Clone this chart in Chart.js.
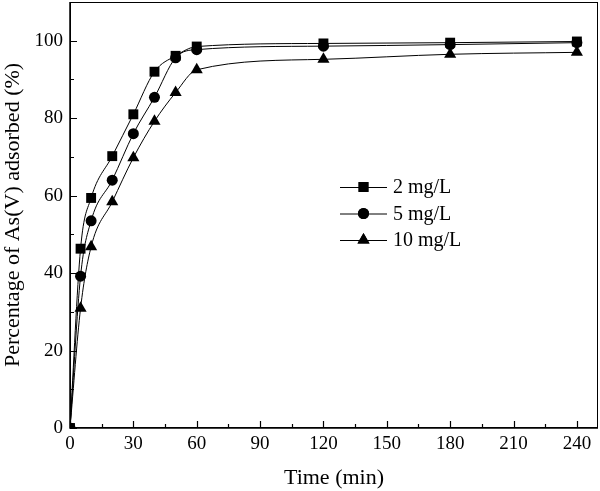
<!DOCTYPE html>
<html lang="en">
<head>
<meta charset="UTF-8">
<title>As(V) adsorption kinetics</title>
<script src="https://cdn.jsdelivr.net/npm/chart.js"></script>
<style>
  html, body { margin: 0; padding: 0; background: #fff; }
  #wrap { width: 600px; height: 491px; }
</style>
</head>
<body>
<div id="wrap"><canvas id="grafico"></canvas></div>
<script>
// data
const tempos = [0, 5, 10, 20, 30, 40, 50, 60, 120, 180, 240];
const serie2 = [0, 46.3, 59.4, 70.2, 81.0, 92.0, 96.1, 98.5, 99.3, 99.5, 99.8];
const serie5 = [0, 39.2, 53.5, 64.0, 76.0, 85.4, 95.6, 97.7, 98.6, 99.0, 99.5];
const serie10 = [0, 30.9, 46.8, 58.4, 69.8, 79.2, 86.6, 92.5, 95.2, 96.5, 97.0];
const rotulos = ['2 mg/L', '5 mg/L', '10 mg/L'];
const ticksX = [0, 30, 60, 90, 120, 150, 180, 210, 240];
const ticksY = [0, 20, 40, 60, 80, 100];

const fonte = 'Liberation Serif, Times New Roman, serif';

function pontos(ys) {
  return tempos.map((t, i) => ({ x: t, y: ys[i] }));
}

function serie(label, ys, estilo, raio) {
  return {
    label: label,
    data: pontos(ys),
    showLine: true,
    borderColor: '#000',
    backgroundColor: '#000',
    borderWidth: 1,
    pointStyle: estilo,
    pointRadius: raio,
    pointHoverRadius: raio,
    pointBorderWidth: 0,
    cubicInterpolationMode: 'monotone'
  };
}

// moldura e ticks para dentro
const molduraPlugin = {
  id: 'moldura',
  afterDraw(chart) {
    const ctx = chart.ctx;
    const a = chart.chartArea;
    const sx = chart.scales.x, sy = chart.scales.y;
    ctx.save();
    ctx.strokeStyle = '#000';
    ctx.lineWidth = 1;
    ctx.strokeRect(a.left + 0.5, a.top + 0.5, a.right - a.left - 1, a.bottom - a.top - 1);
    ctx.lineWidth = 1.5;
    ctx.beginPath();
    ctx.moveTo(a.left, a.top); ctx.lineTo(a.left, a.bottom); ctx.lineTo(a.right, a.bottom);
    ctx.stroke();
    ctx.lineWidth = 1.2;
    ctx.beginPath();
    for (let v = 0; v <= 240; v += 15) {
      const px = Math.round(sx.getPixelForValue(v)) + 0.5;
      const len = v % 30 === 0 ? 7 : 4;
      ctx.moveTo(px, a.bottom); ctx.lineTo(px, a.bottom - len);
    }
    for (let v = 0; v <= 100; v += 10) {
      const py = Math.round(sy.getPixelForValue(v)) + 0.5;
      const len = v % 20 === 0 ? 7 : 4;
      ctx.moveTo(a.left, py); ctx.lineTo(a.left + len, py);
    }
    ctx.stroke();
    ctx.restore();
  }
};

// legenda com linha e marcador
const legendaPlugin = {
  id: 'legendaLinha',
  afterDraw(chart) {
    const ctx = chart.ctx;
    const x0 = 340, x1 = 387, y0 = 187, dy = 26.5;
    ctx.save();
    chart.data.datasets.forEach((ds, i) => {
      const y = y0 + i * dy;
      ctx.strokeStyle = '#000';
      ctx.lineWidth = 1;
      ctx.beginPath();
      ctx.moveTo(x0, y + 0.5); ctx.lineTo(x1, y + 0.5);
      ctx.stroke();
      Chart.helpers.drawPoint(ctx, {
        pointStyle: ds.pointStyle, radius: ds.pointRadius, rotation: 0, borderWidth: 0
      }, (x0 + x1) / 2, y);
      ctx.fillStyle = '#000';
      ctx.fill();
      ctx.font = '20px ' + fonte;
      ctx.textBaseline = 'middle';
      ctx.textAlign = 'left';
      ctx.fillText(ds.label, x1 + 6, y + 1);
    });
    ctx.restore();
  }
};

const ctx = document.getElementById('grafico').getContext('2d');
new Chart(ctx, {
  type: 'scatter',
  data: {
    datasets: [
      serie(rotulos[0], serie2, 'rect', 7),
      serie(rotulos[1], serie5, 'circle', 5.5),
      serie(rotulos[2], serie10, 'triangle', 7)
    ]
  },
  options: {
    responsive: true,
    maintainAspectRatio: false,
    animation: false,
    layout: { autoPadding: false, padding: { top: 2, right: 2, left: 0, bottom: 0 } },
    plugins: { legend: { display: false }, tooltip: { enabled: false } },
    scales: {
      x: {
        type: 'linear',
        min: 0,
        max: 250,
        afterBuildTicks(s) { s.ticks = ticksX.map(v => ({ value: v })); },
        afterFit(s) { s.height = 63; s.paddingLeft = 0; s.paddingRight = 0; },
        grid: { display: false, drawTicks: false },
        border: { display: false },
        ticks: { color: '#000', padding: 5, maxRotation: 0, font: { family: fonte, size: 19 } },
        title: { display: true, text: 'Time (min)', color: '#000', padding: { top: 2, bottom: 0 }, font: { family: fonte, size: 22 } }
      },
      y: {
        type: 'linear',
        min: 0,
        max: 110,
        afterBuildTicks(s) { s.ticks = ticksY.map(v => ({ value: v })); },
        afterFit(s) { s.width = 70; s.paddingTop = 0; s.paddingBottom = 0; },
        grid: { display: false, drawTicks: false },
        border: { display: false },
        ticks: { color: '#000', padding: 7, font: { family: fonte, size: 19 } },
        title: { display: true, text: 'Percentage of As(V) adsorbed (%)', color: '#000', padding: { top: 0, bottom: 2 }, font: { family: fonte, size: 22 } }
      }
    }
  },
  plugins: [molduraPlugin, legendaPlugin]
});
</script>
</body>
</html>
